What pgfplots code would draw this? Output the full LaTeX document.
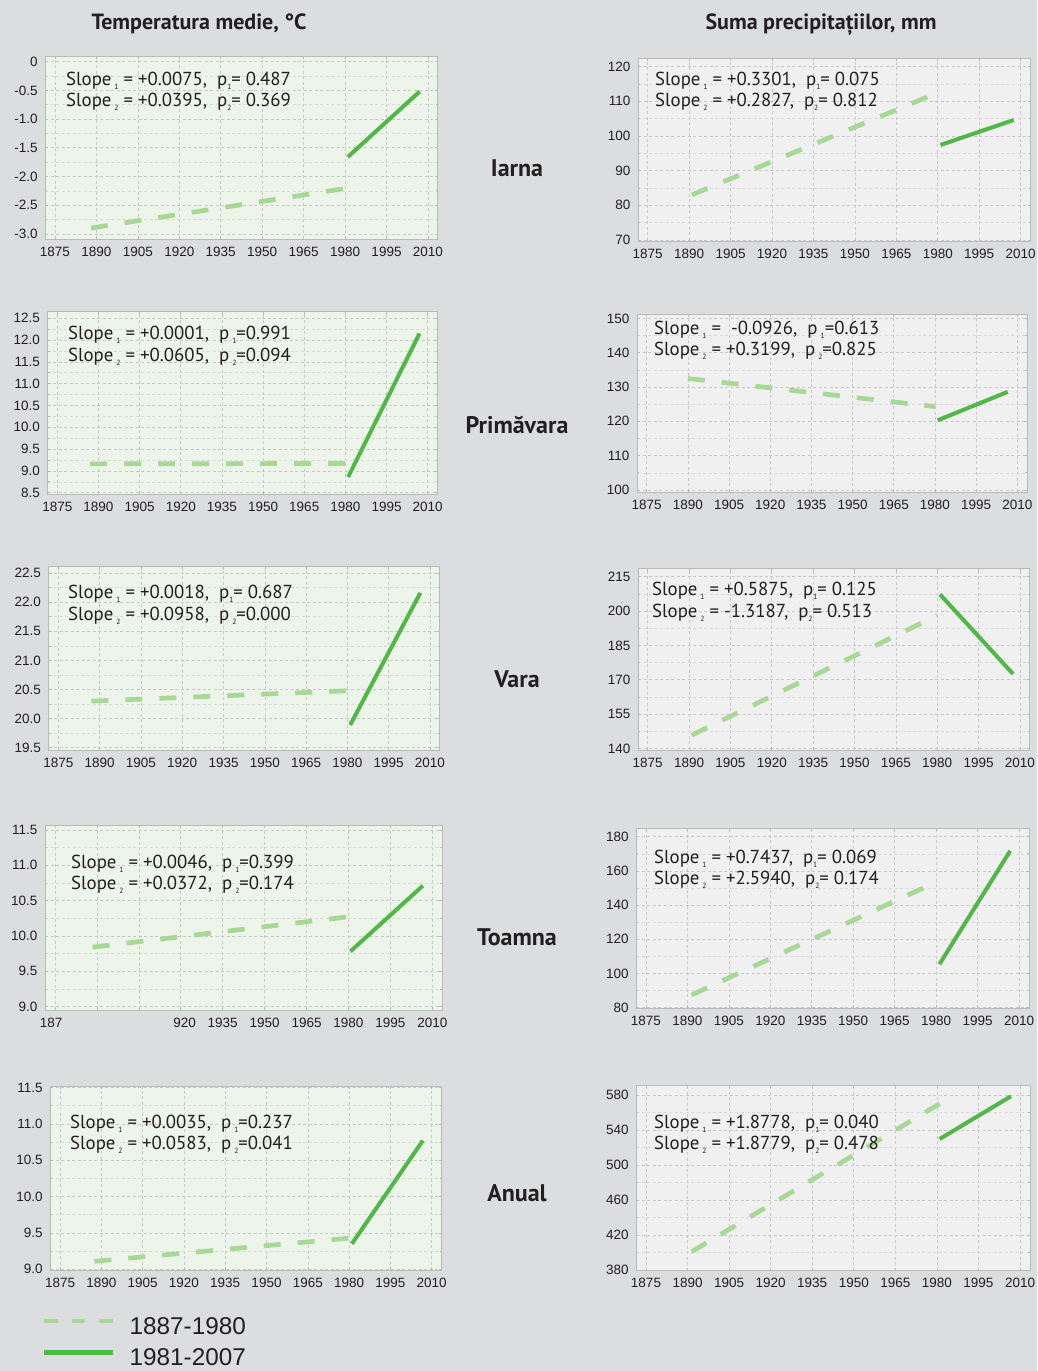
\documentclass[border=0pt]{standalone}
\usepackage{fontspec}
\setmainfont{Liberation Sans}
\newfontfamily\ptsans{PT Sans}
\usepackage{pgfplots}
\pgfplotsset{compat=1.18}

\definecolor{bgc}{RGB}{220,221,223}
\definecolor{tempbg}{RGB}{237,244,233}
\definecolor{precbg}{RGB}{240,240,240}
\definecolor{gridc}{RGB}{200,200,200}
\definecolor{axisc}{RGB}{185,187,185}
\definecolor{dashc}{RGB}{168,216,150}
\definecolor{solidc}{RGB}{80,183,72}
\definecolor{txtc}{RGB}{35,31,32}

\newcommand\sub[1]{\raisebox{-0.4ex}{\fontsize{7.5}{7.5}\selectfont #1}}
% one line of trend statistics: \stat{x}{baseline}{index}{slope}{p part}
\newcommand\stat[5]{\node[stat] at (#1,#2) {Slope\kern3pt\sub{#3}\kern5pt= #4,\ \ #5};}

\pgfplotsset{
  panel/.style={
    scale only axis, anchor=south west, no markers,
    xmin=1871.5, xmax=2013.6,
    xtick={1875,1890,1905,1920,1935,1950,1965,1980,1995,2010},
    xticklabels={1875,1890,1905,1920,1935,1950,1965,1980,1995,2010},
    minor y tick num=1,
    xmajorgrids, ymajorgrids, yminorgrids,
    major grid style={draw=gridc, line width=0.6pt, dash pattern=on 3pt off 2.5pt},
    minor grid style={draw=gridc!70, line width=0.5pt, dash pattern=on 3pt off 2.5pt},
    axis line style={draw=axisc, line width=0.9pt},
    tick style={draw=axisc, line width=0.6pt},
    tick align=inside, major tick length=3pt, minor tick length=2pt,
    ticklabel style={font=\fontsize{13.5}{14}\selectfont, text=txtc},
    xticklabel style={inner sep=0pt, anchor=north, yshift=-7.5pt},
    yticklabel style={inner sep=0pt, anchor=east, xshift=-7.5pt},
  },
  tpanel/.style={panel, axis background/.style={fill=tempbg}},
  ppanel/.style={panel, axis background/.style={fill=precbg}},
  dline/.style={color=dashc, line width=4.7pt, dash pattern=on 17pt off 17pt},
  sline/.style={color=solidc, line width=4pt},
}

\begin{document}
\begin{tikzpicture}[x=1pt,y=1pt]
\useasboundingbox (0,0) rectangle (1037,1371);
\fill[bgc] (0,0) rectangle (1037,1371);

% ---------- Iarna ----------
\begin{axis}[tpanel, at={(45.3pt,1132pt)}, width=392.6pt, height=183pt,
  ymin=-3.09, ymax=0.10,
  ytick={-3,-2.5,-2,-1.5,-1,-0.5,0},
  yticklabels={-3.0,-2.5,-2.0,-1.5,-1.0,-0.5,0}]
\addplot[dline] coordinates {(1888,-2.90) (1980,-2.21)};
\addplot[sline] coordinates {(1981,-1.66) (2007,-0.52)};
\end{axis}
\begin{axis}[ppanel, at={(638pt,1130pt)}, width=392.6pt, height=183pt,
  ymin=69.7, ymax=122.5,
  ytick={70,80,90,100,110,120}, yticklabels={70,80,90,100,110,120}]
\addplot[dline] coordinates {(1891,83.0) (1980,112.5)};
\addplot[sline] coordinates {(1981,97.4) (2007.5,104.6)};
\end{axis}

% ---------- Primavara ----------
\begin{axis}[tpanel, at={(47.7pt,877pt)}, width=389.9pt, height=182.3pt,
  ymin=8.47, ymax=12.65,
  ytick={8.5,9,9.5,10,10.5,11,11.5,12,12.5},
  yticklabels={8.5,9.0,9.5,10.0,10.5,11.0,11.5,12.0,12.5}]
\addplot[dline] coordinates {(1887,9.16) (1981,9.17)};
\addplot[sline] coordinates {(1981,8.86) (2007,12.15)};
\end{axis}
\begin{axis}[ppanel, at={(637.1pt,879pt)}, width=390.1pt, height=178pt,
  ymin=99.4, ymax=151.3,
  ytick={100,110,120,130,140,150}, yticklabels={100,110,120,130,140,150}]
\addplot[dline] coordinates {(1890,132.5) (1980,124.3)};
\addplot[sline] coordinates {(1981,120.3) (2006.5,128.6)};
\end{axis}

% ---------- Vara ----------
\begin{axis}[tpanel, at={(48.7pt,621pt)}, width=391.2pt, height=183.3pt,
  ymin=19.46, ymax=22.61,
  ytick={19.5,20,20.5,21,21.5,22,22.5},
  yticklabels={19.5,20.0,20.5,21.0,21.5,22.0,22.5}]
\addplot[dline] coordinates {(1887,20.30) (1981,20.48)};
\addplot[sline] coordinates {(1981,19.89) (2006.5,22.16)};
\end{axis}
\begin{axis}[ppanel, at={(638pt,621pt)}, width=391.9pt, height=181.7pt,
  ymin=139.3, ymax=218.7,
  ytick={140,155,170,185,200,215}, yticklabels={140,155,170,185,200,215}]
\addplot[dline] coordinates {(1891,145.8) (1980,198.1)};
\addplot[sline] coordinates {(1981,207.3) (2007.5,172.5)};
\end{axis}

% ---------- Toamna ----------
\begin{axis}[tpanel, at={(45.2pt,361pt)}, width=397.2pt, height=185pt,
  ymin=8.95, ymax=11.57,
  ytick={9,9.5,10,10.5,11,11.5},
  yticklabels={9.0,9.5,10.0,10.5,11.0,11.5},
  xticklabels={187\phantom{5},,,\phantom{1}920,1935,1950,1965,1980,1995,2010}]
\addplot[dline] coordinates {(1888.5,9.84) (1980,10.27)};
\addplot[sline] coordinates {(1980.7,9.78) (2006.6,10.71)};
\end{axis}
\begin{axis}[ppanel, at={(636.3pt,362.7pt)}, width=392.7pt, height=180pt,
  ymin=79.6, ymax=184.9,
  ytick={80,100,120,140,160,180}, yticklabels={80,100,120,140,160,180}]
\addplot[dline] coordinates {(1891.5,87.4) (1980,153.5)};
\addplot[sline] coordinates {(1981.2,105.4) (2006.8,171.7)};
\end{axis}

% ---------- Anual ----------
\begin{axis}[tpanel, at={(50.4pt,101pt)}, width=391.2pt, height=184pt,
  ymin=8.99, ymax=11.52,
  ytick={9,9.5,10,10.5,11,11.5},
  yticklabels={9.0,9.5,10.0,10.5,11.0,11.5},
  legend style={at={(-0.0215,-0.257)}, anchor=north west, draw=none, fill=none,
    inner sep=0pt, outer sep=0pt, row sep=13pt, column sep=13.7pt,
    font=\fontsize{24.3}{25}\selectfont, text=txtc,
    nodes={inner sep=0pt, outer sep=0pt}},
  legend cell align=left,
  legend image code/.code={\draw[#1] (0pt,5.4pt) -- (69pt,5.4pt);}]
\addplot[dline, forget plot] coordinates {(1887.5,9.11) (1980.5,9.43)};
\addplot[sline, forget plot] coordinates {(1981,9.35) (2006.8,10.77)};
\addlegendimage{color=dashc, line width=4pt, dash pattern=on 13.5pt off 14pt}
\addlegendentry{1887-1980}
\addlegendimage{color=solidc, line width=5pt}
\addlegendentry{1981-2007}
\end{axis}
\begin{axis}[ppanel, at={(636.3pt,100.3pt)}, width=393.7pt, height=185.7pt,
  ymin=379.2, ymax=591.4,
  ytick={380,420,460,500,540,580}, yticklabels={380,420,460,500,540,580}]
\addplot[dline] coordinates {(1891.5,400.9) (1981,570)};
\addplot[sline] coordinates {(1981,529.7) (2006.7,578.5)};
\end{axis}

\begin{scope}[every node/.style={text=txtc, inner sep=0pt}]
% ---------- column titles ----------
\node[anchor=base, font=\ptsans\bfseries\fontsize{22}{22}\selectfont] at (199,1341) {Temperatura medie, °C};
\node[anchor=base, font=\ptsans\bfseries\fontsize{22}{22}\selectfont] at (821,1341) {Suma precipitațiilor, mm};

% ---------- season labels ----------
\node[anchor=base, font=\ptsans\bfseries\fontsize{24}{24}\selectfont] at (517,1194) {Iarna};
\node[anchor=base, font=\ptsans\bfseries\fontsize{24}{24}\selectfont] at (517,937) {Primăvara};
\node[anchor=base, font=\ptsans\bfseries\fontsize{24}{24}\selectfont] at (517,683) {Vara};
\node[anchor=base, font=\ptsans\bfseries\fontsize{24}{24}\selectfont] at (517,425) {Toamna};
\node[anchor=base, font=\ptsans\bfseries\fontsize{24}{24}\selectfont] at (517,169) {Anual};

% ---------- trend statistics ----------
\tikzset{stat/.style={anchor=base west, font=\ptsans\fontsize{18.8}{19}\selectfont}}
\stat{66}{1285.3}{1}{+0.0075}{p\sub{1}= 0.487}
\stat{66}{1264.3}{2}{+0.0395}{p\sub{2}= 0.369}
\stat{655}{1285.3}{1}{+0.3301}{p\sub{1}= 0.075}
\stat{655}{1264.3}{2}{+0.2827}{p\sub{2}= 0.812}
\stat{68}{1031.7}{1}{+0.0001}{p\,\sub{1}=0.991}
\stat{68}{1009.3}{2}{+0.0605}{p\,\sub{2}=0.094}
\stat{654}{1036.7}{1}{\ -0.0926}{p\,\sub{1}=0.613}
\stat{654}{1015}{2}{+0.3199}{p\,\sub{2}=0.825}
\stat{68}{772}{1}{+0.0018}{p\sub{1}= 0.687}
\stat{68}{750.3}{2}{+0.0958}{p\,\sub{2}=0.000}
\stat{652}{775.3}{1}{+0.5875}{p\sub{1}= 0.125}
\stat{652}{753.3}{2}{-1.3187}{p\sub{2}= 0.513}
\stat{71}{502.7}{1}{+0.0046}{p\,\sub{1}=0.399}
\stat{71}{481.7}{2}{+0.0372}{p\,\sub{2}=0.174}
\stat{654}{507.7}{1}{+0.7437}{p\sub{1}= 0.069}
\stat{654}{486}{2}{+2.5940}{p\sub{2}= 0.174}
\stat{70}{242.7}{1}{+0.0035}{p\,\sub{1}=0.237}
\stat{70}{221}{2}{+0.0583}{p\,\sub{2}=0.041}
\stat{654}{242}{1}{+1.8778}{p\sub{1}= 0.040}
\stat{654}{221}{2}{+1.8779}{p\sub{2}= 0.478}
\end{scope}
\end{tikzpicture}
\end{document}
